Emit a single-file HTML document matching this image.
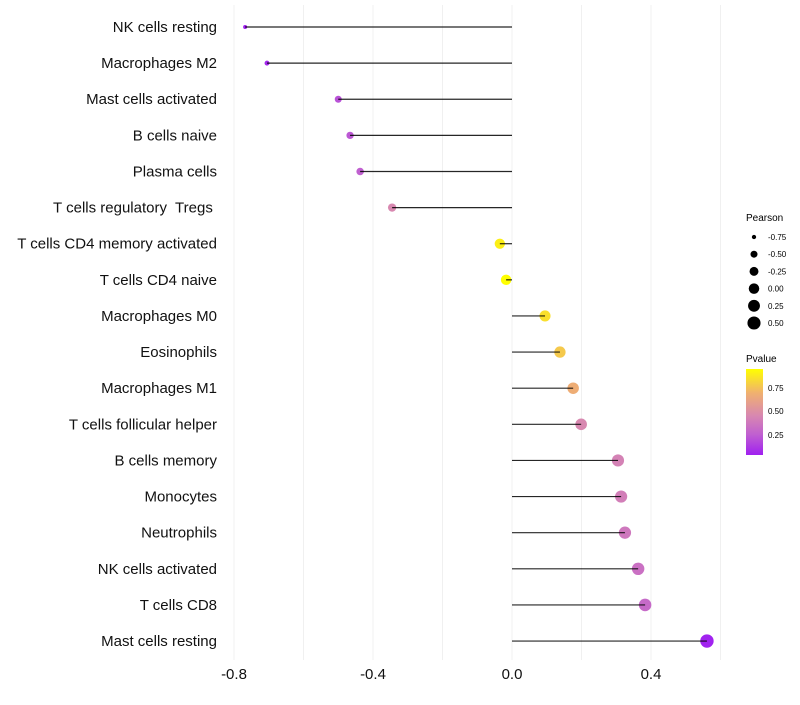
<!DOCTYPE html>
<html><head><meta charset="utf-8"><style>
body{margin:0;background:#fff;font-family:"Liberation Sans",sans-serif}
svg text{font-family:"Liberation Sans",sans-serif;white-space:pre}
</style></head><body>
<svg id="chart" width="800" height="700" xmlns="http://www.w3.org/2000/svg">
<g id="grid"></g>
<g id="marks"></g>
<g id="ylabels"></g>
<g id="xlabels"></g>
<g id="sizeLegend">
<text x="746" y="221" font-size="10">Pearson</text>
</g>
<g>
<text x="746" y="362" font-size="10">Pvalue</text>
<defs><linearGradient id="pg" x1="0" y1="1" x2="0" y2="0">
<stop offset="0" stop-color="#a020f0"/><stop offset="0.24" stop-color="#c060d0"/><stop offset="0.46" stop-color="#d888b0"/><stop offset="0.72" stop-color="#f0b070"/><stop offset="1" stop-color="#ffff00"/></linearGradient></defs>
<rect x="746" y="369" width="17" height="86" fill="url(#pg)"/>
<text x="768" y="391" font-size="8">0.75</text>
<text x="768" y="414" font-size="8">0.50</text>
<text x="768" y="438" font-size="8">0.25</text>
</g>
</svg>
<script>
const categories=["NK cells resting","Macrophages M2","Mast cells activated","B cells naive","Plasma cells","T cells regulatory  Tregs ","T cells CD4 memory activated","T cells CD4 naive","Macrophages M0","Eosinophils","Macrophages M1","T cells follicular helper","B cells memory","Monocytes","Neutrophils","NK cells activated","T cells CD8","Mast cells resting"];
const pearson=[-0.768,-0.705,-0.50,-0.466,-0.437,-0.345,-0.035,-0.017,0.095,0.138,0.176,0.199,0.305,0.314,0.325,0.363,0.383,0.561];
const pvalue=[0.02,0.05,0.2,0.22,0.25,0.45,0.9,0.95,0.85,0.78,0.68,0.45,0.42,0.4,0.37,0.33,0.3,0.03];
const xTicks=[-0.8,-0.4,0.0,0.4];
const xTickLabels=["-0.8","-0.4","0.0","0.4"];
const gridVals=[-0.8,-0.6,-0.4,-0.2,0,0.2,0.4,0.6];
const sizeLegendVals=[-0.75,-0.5,-0.25,0,0.25,0.5];
const sizeLegendLabels=["-0.75","-0.50","-0.25","0.00","0.25","0.50"];
const NS="http://www.w3.org/2000/svg";
const xs=v=>512+v*347.5;
const ys=i=>27+i*36.12;
const rs=v=>Math.sqrt(4+Math.max(0,v+0.77)*30.7);
const stops=[[0.02,[160,32,240]],[0.25,[192,96,208]],[0.45,[216,136,176]],[0.7,[240,176,112]],[0.95,[255,255,0]]];
function col(p){if(p<=stops[0][0])return 'rgb('+stops[0][1]+')';for(let i=1;i<stops.length;i++){if(p<=stops[i][0]){const a=stops[i-1],b=stops[i],t=(p-a[0])/(b[0]-a[0]);return 'rgb('+a[1].map((c,k)=>Math.round(c+(b[1][k]-c)*t))+')';}}return 'rgb('+stops[4][1]+')';}
function mk(t,at,parent){const e=document.createElementNS(NS,t);for(const k in at)e.setAttribute(k,at[k]);parent.appendChild(e);return e;}
const grid=document.getElementById('grid'),marks=document.getElementById('marks'),yl=document.getElementById('ylabels'),xl=document.getElementById('xlabels'),sl=document.getElementById('sizeLegend');
gridVals.forEach(v=>{const l=mk('line',{x1:xs(v),x2:xs(v),y1:5,y2:660,stroke:'#f0f0f0','stroke-width':1},grid);

});
categories.forEach((c,i)=>{
const y=ys(i);
const d=mk('circle',{cx:xs(pearson[i]),cy:y,r:rs(pearson[i]),fill:col(pvalue[i])},marks);


const s=mk('line',{x1:xs(0),x2:xs(pearson[i]),y1:y,y2:y,stroke:'#000','stroke-width':1.2,'stroke-opacity':0.85},marks);


const t=mk('text',{x:217,y:y+5,'font-size':15,'text-anchor':'end',fill:'#111'},yl);
t.textContent=c;


});
xTicks.forEach((v,i)=>{const t=mk('text',{x:xs(v),y:679,'font-size':15,'text-anchor':'middle',fill:'#111'},xl);t.textContent=xTickLabels[i];

});
sizeLegendVals.forEach((v,i)=>{const y=237+i*17.2;
const c=mk('circle',{cx:754,cy:y,r:rs(v),fill:'#000'},sl);


const t=mk('text',{x:768,y:y+3,'font-size':8},sl);t.textContent=sizeLegendLabels[i];

});
</script>
</body></html>
